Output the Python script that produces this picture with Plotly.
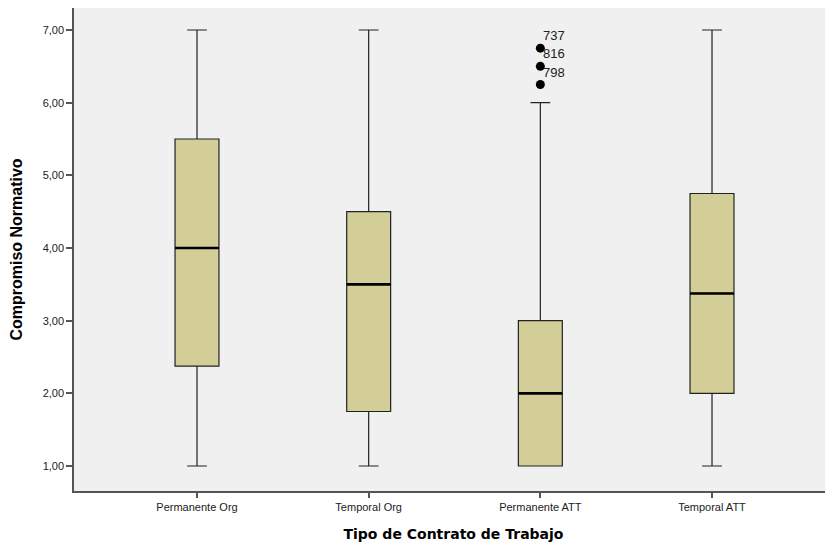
import plotly.graph_objects as go

categories = ["Permanente Org", "Temporal Org", "Permanente ATT", "Temporal ATT"]
q1 = [2.375, 1.75, 1.0, 2.0]
median = [4.0, 3.5, 2.0, 3.375]
q3 = [5.5, 4.5, 3.0, 4.75]
lower = [1.0, 1.0, 1.0, 1.0]
upper = [7.0, 7.0, 6.0, 7.0]
outlier_cat = [2, 2, 2]
outlier_val = [6.75, 6.5, 6.25]
outlier_lab = ["737", "816", "798"]
ytick_vals = [1, 2, 3, 4, 5, 6, 7]
ytick_text = ["1,00", "2,00", "3,00", "4,00", "5,00", "6,00", "7,00"]

xs = list(range(len(categories)))
fig = go.Figure()
fig.add_trace(go.Box(
    x=xs, q1=q1, median=median, q3=q3, lowerfence=lower, upperfence=upper,
    width=0.256, whiskerwidth=0.45, fillcolor="#D3CE97",
    line=dict(color="#222222", width=1.2), boxpoints=False, showlegend=False,
))
# thicker median line
for i in xs:
    fig.add_trace(go.Scatter(x=[i - 0.128, i + 0.128], y=[median[i], median[i]], mode="lines",
                             line=dict(color="black", width=2.6), showlegend=False, hoverinfo="skip"))
fig.add_trace(go.Scatter(x=outlier_cat, y=outlier_val, mode="markers",
                         marker=dict(color="black", size=9), showlegend=False))
for c, v, t in zip(outlier_cat, outlier_val, outlier_lab):
    fig.add_annotation(x=c, y=v, text=t, showarrow=False, xanchor="left", yanchor="bottom",
                       xshift=1, yshift=3, font=dict(family="Liberation Sans, Arial", size=13, color="#222"))

fig.update_layout(
    width=825, height=539, margin=dict(l=66, r=0, t=0, b=56),
    paper_bgcolor="white", plot_bgcolor="#F0F0F0",
    font=dict(family="Liberation Sans, Arial", size=11, color="#222"),
)
fig.update_xaxes(range=[-0.7165, 3.7048], tickvals=xs, ticktext=categories, showgrid=False, zeroline=False,
                 automargin=False,
                 showline=True, mirror=True, linecolor="#555", linewidth=1.5,
                 ticks="outside", ticklen=5, tickcolor="#555", tickwidth=1.5,
                 title=dict(text="<b>Tipo de Contrato de Trabajo</b>",
                            font=dict(family="DejaVu Sans", size=14, color="black"), standoff=17))
fig.update_yaxes(range=[0.656, 7.303], tickvals=ytick_vals, ticktext=ytick_text, showgrid=False, zeroline=False,
                 automargin=False,
                 showline=True, mirror=True, linecolor="#555", linewidth=1.5,
                 ticks="outside", ticklen=6, tickcolor="#555", tickwidth=1.5,
                 title=dict(text="<b>Compromiso Normativo</b>",
                            font=dict(family="Liberation Sans Narrow, Liberation Sans", size=16, color="black"), standoff=16))
fig.write_html("out.html")
